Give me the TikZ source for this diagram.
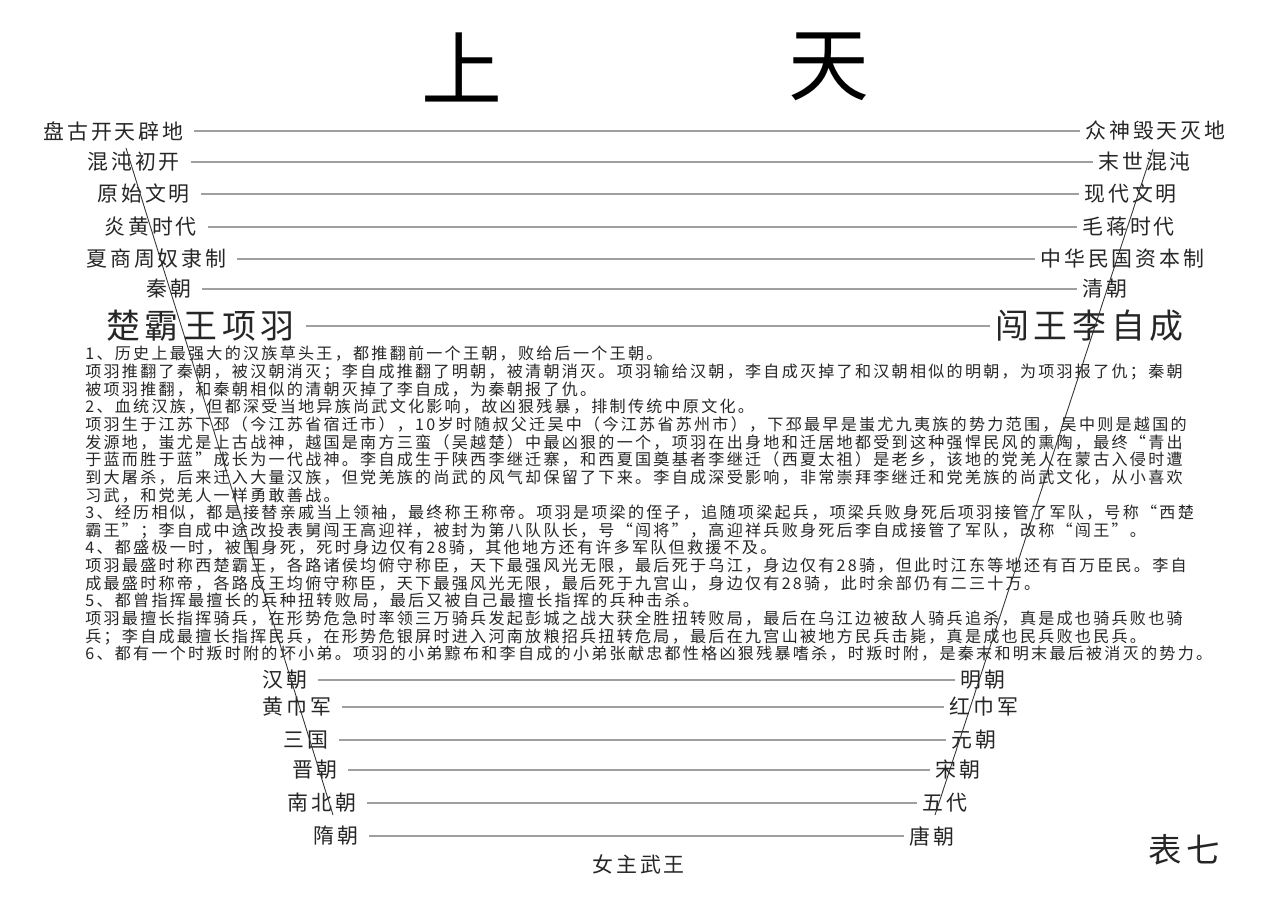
\documentclass[tikz,border=0pt]{standalone}
\usepackage{fontspec}
\setmainfont{Noto Sans CJK SC}
\newfontfamily\cjk[LetterSpace=14]{Noto Sans CJK SC}
\newfontfamily\cjkttl{Noto Sans CJK SC}

\begin{document}
\begin{tikzpicture}[
      x=0.02cm, y=-0.02cm,
      ttl/.style={font={\cjkttl\fontsize{46pt}{50pt}\selectfont},inner sep=0pt},
      era/.style={font={\cjk\fontsize{11.9pt}{13pt}\selectfont},inner sep=0pt,anchor=west,text=black!85},
      king/.style={font={\cjk\fontsize{19.3pt}{22pt}\selectfont},inner sep=0pt,anchor=west,text=black!85},
      tag/.style={font={\cjk\fontsize{19pt}{22pt}\selectfont},inner sep=0pt,anchor=west,text=black!85},
      note/.style={font={\cjk\fontsize{9.15pt}{10.04pt}\selectfont},inner sep=0pt,
                   anchor=north west,align=left,text=black!85},
      rule/.style={gray!75,line width=0.8pt,shorten <=6pt,shorten >=3pt},
      slant/.style={black!80,line width=0.5pt},
    ]
    \useasboundingbox (0,0) rectangle (1280,905);

    % ── Title ──────────────────────────────────────────────────────────────
    \node[ttl] (shang) at (462,67) {上};
    \node[ttl] (tian)  at (829,67) {天};

    % ── Upper eras, left ───────────────────────────────────────────────────
    \node[era]  (pangu)  at (43,131)  {盘古开天辟地};
    \node[era]  (hundun) at (87,162)  {混沌初开};
    \node[era]  (yuanshi) at (97,194) {原始文明};
    \node[era]  (yanhuang) at (104,227) {炎黄时代};
    \node[era]  (xsz)    at (86,259)  {夏商周奴隶制};
    \node[era]  (qin)    at (146,289) {秦朝};
    \node[king] (xiangyu) at (106,326) {楚霸王项羽};

    % ── Upper eras, right ──────────────────────────────────────────────────
    \node[era]  (zhongshen) at (1085,131) {众神毁天灭地};
    \node[era]  (moshi)  at (1098,162) {末世混沌};
    \node[era]  (xiandai) at (1084,194) {现代文明};
    \node[era]  (maojiang) at (1082,227) {毛蒋时代};
    \node[era]  (minguo) at (1040,259) {中华民国资本制};
    \node[era]  (qing)   at (1082,289) {清朝};
    \node[king] (lizicheng) at (995,326) {闯王李自成};

    % ── Upper rules ────────────────────────────────────────────────────────
    \draw[rule] (pangu.east)    -- (zhongshen.west);
    \draw[rule] (hundun.east)   -- (moshi.west);
    \draw[rule] (yuanshi.east)  -- (xiandai.west);
    \draw[rule] (yanhuang.east) -- (maojiang.west);
    \draw[rule] (xsz.east)      -- (minguo.west);
    \draw[rule] (qin.east)      -- (qing.west);
    \draw[rule] (xiangyu.east)  -- (lizicheng.west);

    % ── Notes ──────────────────────────────────────────────────────────────
    \node[note] (notes) at (85,346) {%
      1、历史上最强大的汉族草头王，都推翻前一个王朝，败给后一个王朝。\\
      项羽推翻了秦朝，被汉朝消灭；李自成推翻了明朝，被清朝消灭。项羽输给汉朝，李自成灭掉了和汉朝相似的明朝，为项羽报了仇；秦朝\\
      被项羽推翻，和秦朝相似的清朝灭掉了李自成，为秦朝报了仇。\\
      2、血统汉族，但都深受当地异族尚武文化影响，故凶狠残暴，排制传统中原文化。\\
      项羽生于江苏下邳（今江苏省宿迁市），10岁时随叔父迁吴中（今江苏省苏州市），下邳最早是蚩尤九夷族的势力范围，吴中则是越国的\\
      发源地，蚩尤是上古战神，越国是南方三蛮（吴越楚）中最凶狠的一个，项羽在出身地和迁居地都受到这种强悍民风的熏陶，最终“青出\\
      于蓝而胜于蓝”成长为一代战神。李自成生于陕西李继迁寨，和西夏国奠基者李继迁（西夏太祖）是老乡，该地的党羌人在蒙古入侵时遭\\
      到大屠杀，后来迁入大量汉族，但党羌族的尚武的风气却保留了下来。李自成深受影响，非常崇拜李继迁和党羌族的尚武文化，从小喜欢\\
      习武，和党羌人一样勇敢善战。\\
      3、经历相似，都是接替亲戚当上领袖，最终称王称帝。项羽是项梁的侄子，追随项梁起兵，项梁兵败身死后项羽接管了军队，号称“西楚\\
      霸王”；李自成中途改投表舅闯王高迎祥，被封为第八队队长，号“闯将”，高迎祥兵败身死后李自成接管了军队，改称“闯王”。\\
      4、都盛极一时，被围身死，死时身边仅有28骑，其他地方还有许多军队但救援不及。\\
      项羽最盛时称西楚霸王，各路诸侯均俯守称臣，天下最强风光无限，最后死于乌江，身边仅有28骑，但此时江东等地还有百万臣民。李自\\
      成最盛时称帝，各路反王均俯守称臣，天下最强风光无限，最后死于九宫山，身边仅有28骑，此时余部仍有二三十万。\\
      5、都曾指挥最擅长的兵种扭转败局，最后又被自己最擅长指挥的兵种击杀。\\
      项羽最擅长指挥骑兵，在形势危急时率领三万骑兵发起彭城之战大获全胜扭转败局，最后在乌江边被敌人骑兵追杀，真是成也骑兵败也骑\\
      兵；李自成最擅长指挥民兵，在形势危银屏时进入河南放粮招兵扭转危局，最后在九宫山被地方民兵击毙，真是成也民兵败也民兵。\\
      6、都有一个时叛时附的坏小弟。项羽的小弟黥布和李自成的小弟张献忠都性格凶狠残暴嗜杀，时叛时附，是秦末和明末最后被消灭的势力。};

    % ── Lower eras, left ───────────────────────────────────────────────────
    \node[era] (han)     at (262,680) {汉朝};
    \node[era] (huangjin) at (262,707) {黄巾军};
    \node[era] (sanguo)  at (283,740) {三国};
    \node[era] (jin)     at (292,770) {晋朝};
    \node[era] (nanbei)  at (287,803) {南北朝};
    \node[era] (sui)     at (313,836) {隋朝};

    % ── Lower eras, right ──────────────────────────────────────────────────
    \node[era] (ming)    at (960,680) {明朝};
    \node[era] (hongjin) at (949,707) {红巾军};
    \node[era] (yuan)    at (951,740) {元朝};
    \node[era] (song)    at (935,770) {宋朝};
    \node[era] (wudai)   at (922,803) {五代};
    \node[era] (tang)    at (909,836) {唐朝};

    % ── Lower rules ────────────────────────────────────────────────────────
    \draw[rule] (han.east)      -- (ming.west);
    \draw[rule] (huangjin.east) -- (hongjin.west);
    \draw[rule] (sanguo.east)   -- (yuan.west);
    \draw[rule] (jin.east)      -- (song.west);
    \draw[rule] (nanbei.east)   -- (wudai.west);
    \draw[rule] (sui.east)      -- (tang.west);

    \node[era] (wuwang) at (592,864) {女主武王};
    \node[tag] (biaoqi) at (1148,850) {表七};

    % ── Slanted lines ──────────────────────────────────────────────────────
    \coordinate (lt) at (126,148);
    \coordinate (lb) at (333,815);
    \coordinate (rt) at (1153,149);
    \coordinate (rb) at (935,815);
    \draw[slant] (lt) -- (lb);
    \draw[slant] (rt) -- (rb);

  \end{tikzpicture}
\end{document}
